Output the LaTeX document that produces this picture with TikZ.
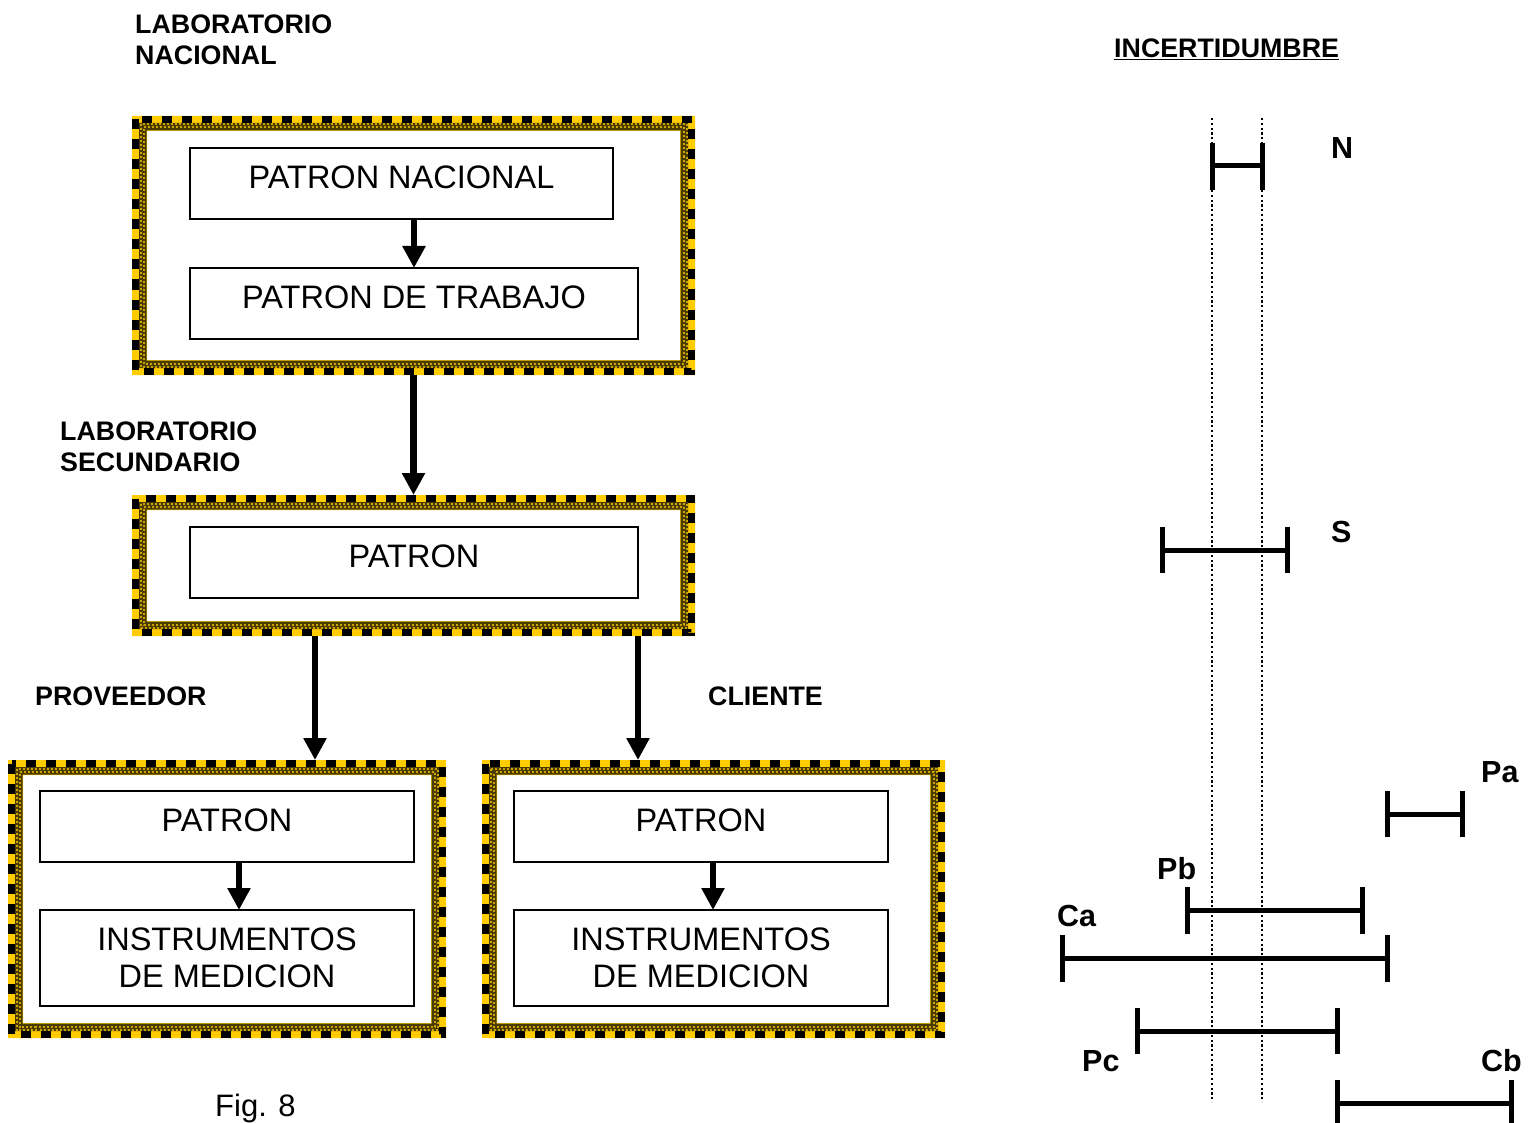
\documentclass[tikz,border=0pt]{standalone}
\usepackage{fontspec}
\setmainfont{Liberation Sans}
\usetikzlibrary{arrows.meta}
\definecolor{fy}{HTML}{FFCC00}
\definecolor{fo}{HTML}{4A3C00}
\tikzset{
 frame/.style={rectangle, inner sep=0pt, outer sep=0pt, draw=none},
 box/.style={draw, line width=2pt, inner sep=0pt, outer sep=0pt, font=\fontsize{32.5}{37}\selectfont, align=center},
 one/.style={text height=23.3pt, text depth=13pt},
 lab/.style={font=\bfseries\fontsize{26.8}{31}\selectfont, inner sep=0pt, align=left},
 ebl/.style={font=\bfseries\fontsize{30.5}{36}\selectfont, inner sep=0pt, anchor=base west},
 arr/.style={line width=6.5pt, -{Triangle[length=22pt,width=22pt]}},
 bar/.style={line width=5pt},
 dotl/.style={line width=2.2pt, dash pattern=on 2.2pt off 2.6pt},
 chk/.style={fy!80!black, line width=2pt, dash pattern=on 2pt off 2pt},
}
\newcommand\decoframe[1]{%
 \fill[fy,even odd rule] (#1.north west) rectangle (#1.south east) ([shift={(15,15)}]#1.north west) rectangle ([shift={(-15,-15)}]#1.south east);
 \fill[fo, even odd rule] ([shift={(7,7)}]#1.north west) rectangle ([shift={(-7,-7)}]#1.south east) ([shift={(14.5,14.5)}]#1.north west) rectangle ([shift={(-14.5,-14.5)}]#1.south east);
 \draw[chk] ([shift={(8.5,8.5)}]#1.north west) rectangle ([shift={(-8.5,-8.5)}]#1.south east);
 \draw[chk, dash phase=2pt] ([shift={(11.5,11.5)}]#1.north west) rectangle ([shift={(-11.5,-11.5)}]#1.south east);
 \draw[line width=7pt, dash pattern=on 10pt off 10pt] ([shift={(3.5,3.5)}]#1.north west) rectangle ([shift={(-3.5,-3.5)}]#1.south east);
}
\begin{document}
\begin{tikzpicture}[x=1pt,y=-1pt]
\fill[white] (0,0) rectangle (1536,1123);
\useasboundingbox (0,0) rectangle (1536,1123);

% frames
\node[frame, minimum width=563pt, minimum height=259pt] (F1) at (413.5,245.5) {};
\node[frame, minimum width=563pt, minimum height=141pt] (F2) at (413.5,565.5) {};
\node[frame, minimum width=438pt, minimum height=278pt] (F3) at (227,899) {};
\node[frame, minimum width=463pt, minimum height=278pt] (F4) at (713.5,899) {};
\decoframe{F1}
\decoframe{F2}
\decoframe{F3}
\decoframe{F4}

% inner boxes
\node[box, one, minimum width=423pt, minimum height=71pt] (P1) at (401.5,183.5) {PATRON NACIONAL};
\node[box, one, minimum width=448pt, minimum height=71pt] (T1) at (414,303.5) {PATRON DE TRABAJO};
\node[box, one, minimum width=448pt, minimum height=71pt] (P2) at (414,562.5) {PATRON};
\node[box, one, minimum width=374pt, minimum height=71pt] (P3) at (227,826.5) {PATRON};
\node[box, minimum width=374pt, minimum height=96pt] (I3) at (227,958) {INSTRUMENTOS\\DE MEDICION};
\node[box, one, minimum width=374pt, minimum height=71pt] (P4) at (701,826.5) {PATRON};
\node[box, minimum width=374pt, minimum height=96pt] (I4) at (701,958) {INSTRUMENTOS\\DE MEDICION};

% arrows
\draw[arr] (P1.south -| T1.north) -- (T1.north);
\draw[arr] (F1.south) -- (F2.north);
\coordinate (xa) at (315,0);
\coordinate (xb) at (638,0);
\draw[arr] (F2.south -| xa) -- (F3.north -| xa);
\draw[arr] (F2.south -| xb) -- (F4.north -| xb);
\draw[arr] ([xshift=12pt]P3.south) -- ([xshift=12pt]I3.north);
\draw[arr] ([xshift=12pt]P4.south) -- ([xshift=12pt]I4.north);

% labels
\node[lab, anchor=north west] (LN) at (135,14.5) {LABORATORIO\\NACIONAL};
\node[lab, anchor=north west] (LS) at (60,421.5) {LABORATORIO\\SECUNDARIO};
\node[lab, anchor=west] (PV) at (35,696) {PROVEEDOR};
\node[lab, anchor=west] (CL) at (708,696) {CLIENTE};
\node[font=\fontsize{31}{37}\selectfont, inner sep=0pt, anchor=base west] (FG) at (215,1116) {Fig. 8};

% uncertainty
\node[font=\bfseries\fontsize{26.8}{31}\selectfont, inner sep=0pt, anchor=base west] (INC) at (1114,57.3) {\underline{INCERTIDUMBRE}};
\coordinate (d1t) at (1212,118);
\coordinate (d1b) at (1212,1102);
\coordinate (d2t) at (1262,118);
\coordinate (d2b) at (1262,1102);
\draw[dotl] (d1t) -- (d1b);
\draw[dotl] (d2t) -- (d2b);

% error bars: N, S, Pa, Pb, Ca, Pc, Cb
\draw[bar] (1212,143) -- (1212,190) (1262,143) -- (1262,190) (1212,166) -- (1262,166);
\draw[bar] (1162,527) -- (1162,573) (1287,527) -- (1287,573) (1162,550) -- (1287,550);
\draw[bar] (1387,791) -- (1387,837) (1462,791) -- (1462,837) (1387,814) -- (1462,814);
\draw[bar] (1187,887) -- (1187,934) (1362,887) -- (1362,934) (1187,910) -- (1362,910);
\draw[bar] (1062,935) -- (1062,982) (1387,935) -- (1387,982) (1062,958) -- (1387,958);
\draw[bar] (1137,1008) -- (1137,1054) (1337,1008) -- (1337,1054) (1137,1031) -- (1337,1031);
\draw[bar] (1337,1080) -- (1337,1126) (1511,1080) -- (1511,1126) (1337,1103) -- (1511,1103);

\node[ebl] (lN) at (1331,158.7) {N};
\node[ebl] (lS) at (1331,542.7) {S};
\node[ebl] (lPa) at (1481,782.7) {Pa};
\node[ebl] (lPb) at (1157,879.7) {Pb};
\node[ebl] (lCa) at (1057,926.7) {Ca};
\node[ebl] (lPc) at (1082,1071.7) {Pc};
\node[ebl] (lCb) at (1481,1071.7) {Cb};
\end{tikzpicture}
\end{document}
